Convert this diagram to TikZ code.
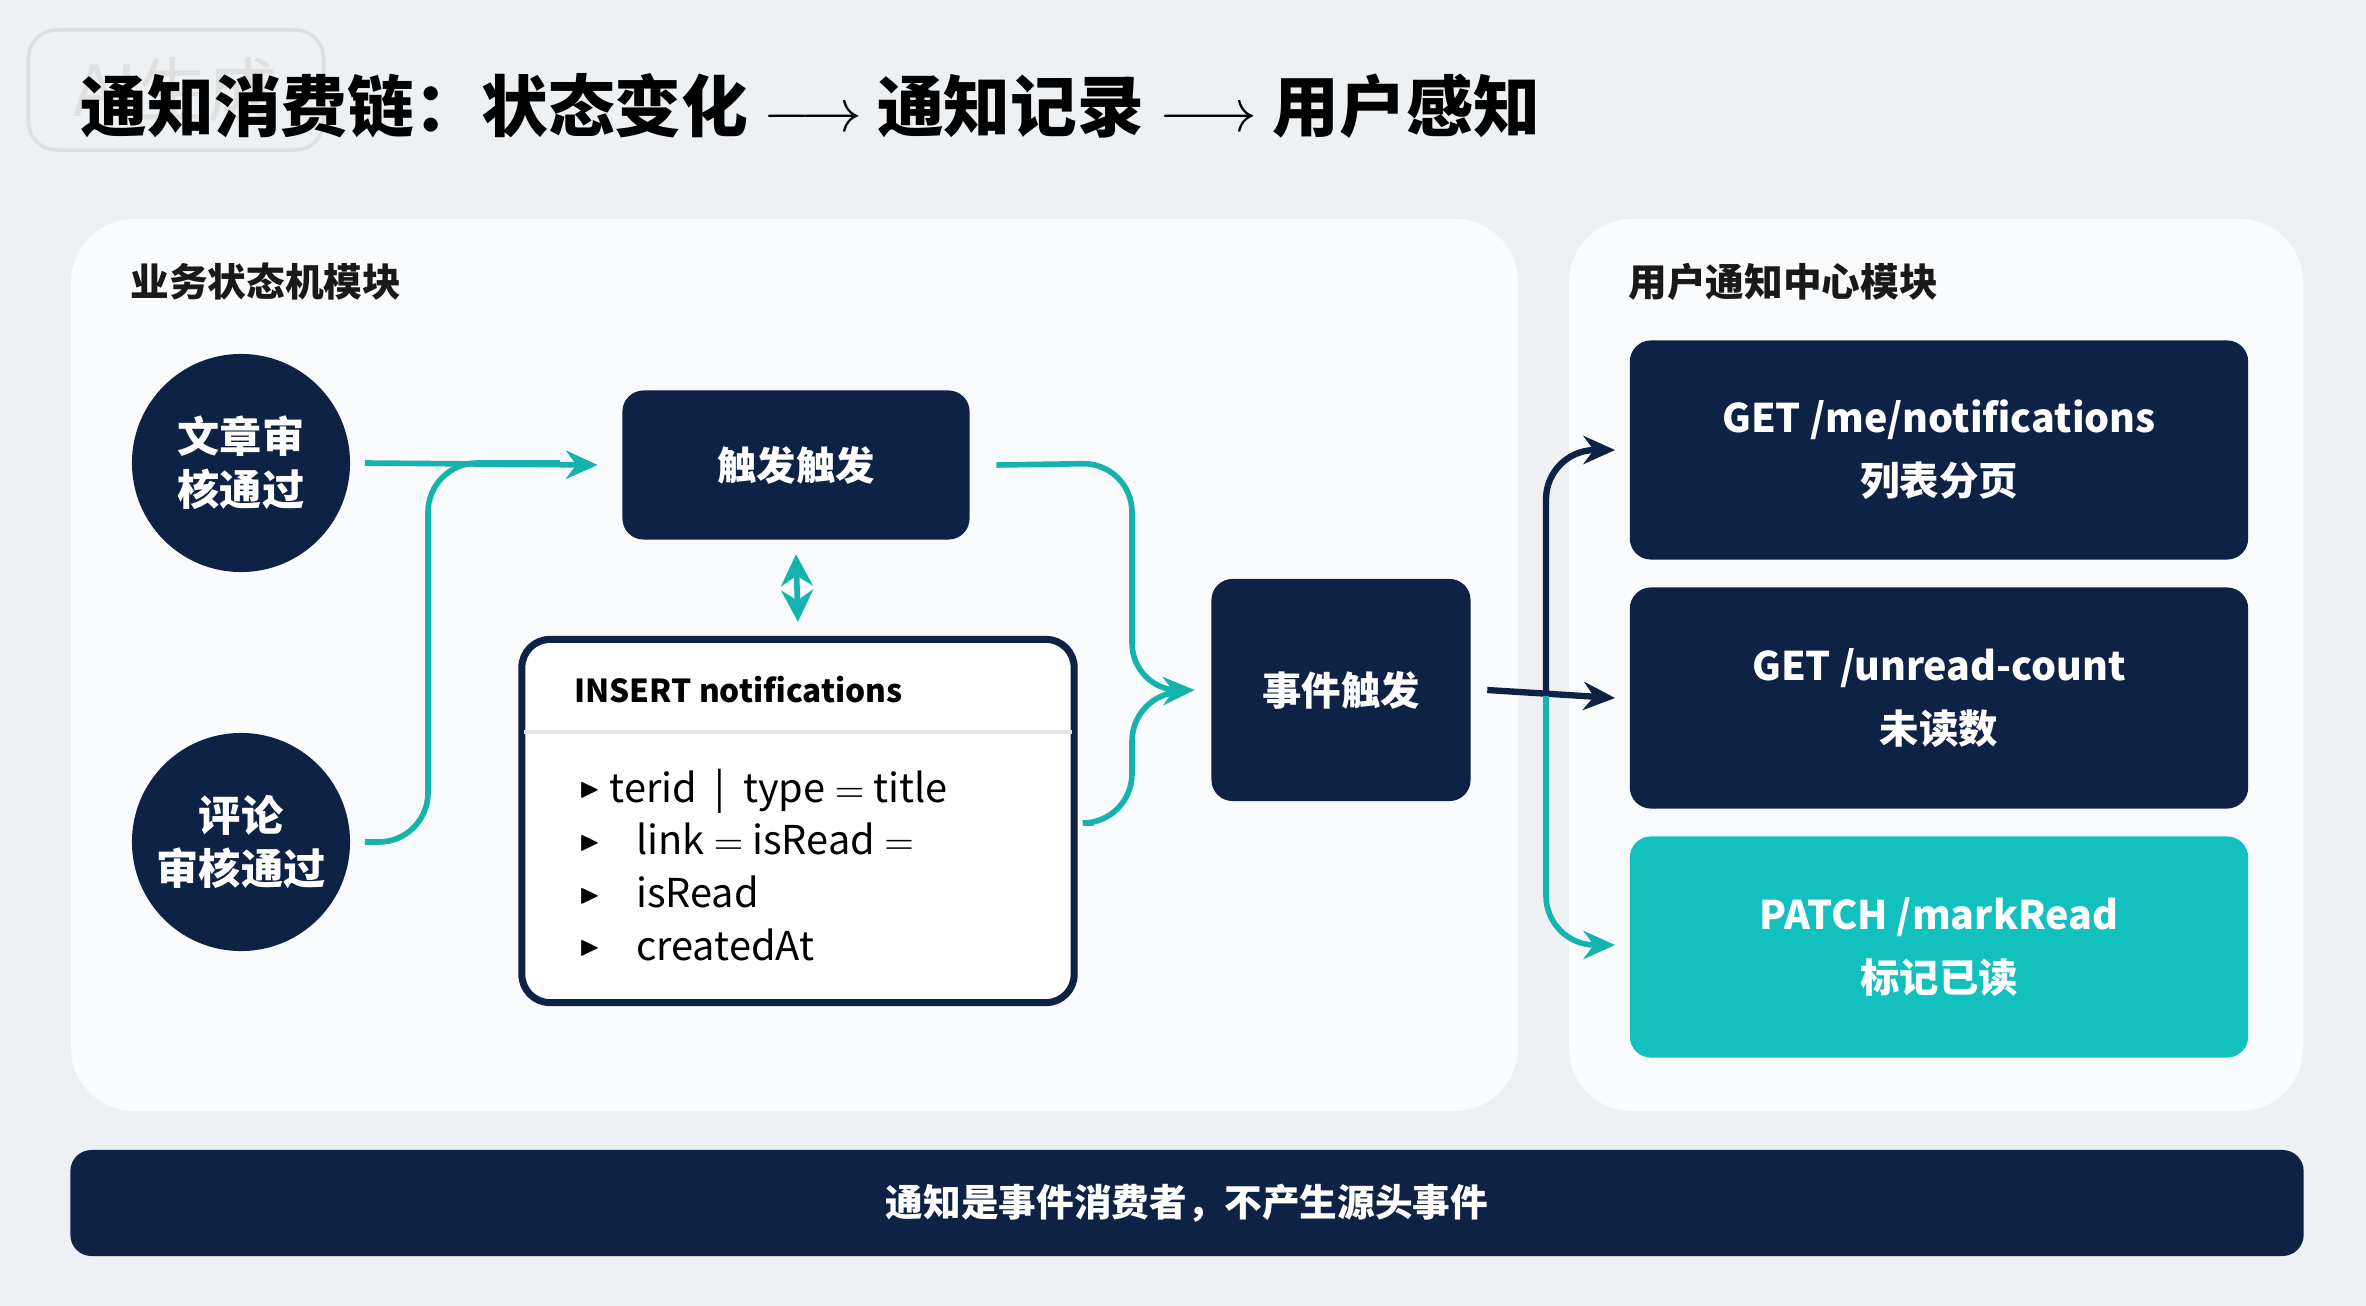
\documentclass[tikz,border=0pt]{standalone}
\usepackage{amssymb}
\usepackage{fontspec}
\setmainfont{Noto Sans CJK SC}
\usetikzlibrary{arrows.meta}
\definecolor{navy}{HTML}{0D2244}
\definecolor{teal}{HTML}{16B3AE}
\definecolor{tealbox}{HTML}{12C1BE}
\definecolor{bg}{HTML}{EEF1F4}
\newcommand{\bul}{\raisebox{1.5pt}{\scriptsize$\blacktriangleright$}}
\begin{document}
\begin{tikzpicture}[x=0.01cm,y=-0.01cm,
  panel/.style={fill=white!70!bg,rounded corners=18pt,draw=none},
  dbox/.style={fill=navy,rounded corners=6pt,text=white,font=\bfseries\fontsize{11.2}{18}\selectfont,align=center,inner sep=0},
  circ/.style={circle,fill=navy,text=white,font=\bfseries\fontsize{12}{15}\selectfont,align=center,minimum size=2.18cm,inner sep=0},
  conn/.style={teal,line width=1.6pt,rounded corners=14pt},
  arr/.style={-{Stealth[length=9pt,width=8pt]}},
  lbl/.style={font=\bfseries\fontsize{11}{13}\selectfont,anchor=west,text=black!90}]
\fill[bg] (0,0) rectangle (2366,1306);
\useasboundingbox (0,0) rectangle (2366,1306);
% watermark
\node[draw=black!12,line width=1pt,rounded corners=8pt,minimum width=2.95cm,minimum height=1.2cm,text=black!12,font=\fontsize{20}{22}\selectfont] (wm) at (176,90) {AI生成};
\node[anchor=west,font=\bfseries\fontsize{19}{22}\selectfont] (title) at (68,106) {通知消费链：状态变化 $\longrightarrow$ 通知记录 $\longrightarrow$ 用户感知};
% panels
\fill[panel] (71,219) rectangle (1518,1111);
\fill[panel] (1569,219) rectangle (2303,1111);
\node[lbl] (l1) at (118,282) {业务状态机模块};
\node[lbl] (l2) at (1616,282) {用户通知中心模块};
% circles
\node[circ] (c1) at (241,463) {文章审\\核通过};
\node[circ] (c2) at (241,842) {评论\\审核通过};
% trigger
\node[dbox,minimum width=3.47cm,minimum height=1.49cm] (trig) at (796,465) {触发触发};
% insert box
\node[draw=navy,line width=2pt,fill=white,rounded corners=8pt,minimum width=5.52cm,minimum height=3.63cm,inner sep=0] (ins) at (798,821) {};
\draw[black!10,line width=1pt] (524,732) -- (1072,732);
\node[anchor=west,font=\bfseries\fontsize{9}{11}\selectfont] (insh) at (562,690) {INSERT notifications};
\node[anchor=north west,font=\fontsize{11.3}{15}\selectfont,align=left,inner sep=0] (insl) at (578,768) {%
\bul\ terid\ \ |\ \ type $=$ title\\
\bul\ \ \ \ link $=$ isRead $=$\\
\bul\ \ \ \ isRead\\
\bul\ \ \ \ createdAt};
% event
\node[dbox,minimum width=2.59cm,minimum height=2.22cm] (ev) at (1341,690) {事件触发};
% right boxes
\node[dbox,minimum width=6.18cm,minimum height=2.19cm] (r1) at (1939,450) {GET /me/notifications\\列表分页};
\node[dbox,minimum width=6.18cm,minimum height=2.21cm] (r2) at (1939,698) {GET /unread-count\\未读数};
\node[dbox,fill=tealbox,minimum width=6.18cm,minimum height=2.21cm] (r3) at (1939,947) {PATCH /markRead\\标记已读};
% bottom bar
\node[dbox,minimum width=22.32cm,minimum height=1.06cm,font=\bfseries\fontsize{10.7}{13}\selectfont] (bar) at (1187,1203) {通知是事件消费者，不产生源头事件};
% connectors
\coordinate (jr) at (1546,696);
\draw[conn,arr] ([xshift=0.14cm]c1.east) -- ([xshift=-0.24cm]trig.west);
\draw[conn] ([xshift=0.14cm]c2.east) -- (428,842) -- (428,463) -- (560,463);
\draw[conn,arr] ([xshift=0.26cm]trig.east) -- (1132,463) -- (1132,692) -- ([xshift=-0.16cm]ev.west);
\draw[conn] ([xshift=0.16cm]ins.east |- 0,823) -- (1132,823) -- (1132,692) -- (1180,692);
\draw[conn,{Stealth[length=9pt,width=9pt]}-{Stealth[length=9pt,width=9pt]}] ([yshift=-0.14cm]trig.south) -- ([yshift=0.14cm]ins.north);
\draw[navy,line width=1.8pt,arr] ([xshift=0.16cm]ev.east) -- ([xshift=-0.14cm]r2.west);
\draw[navy,line width=1.8pt,rounded corners=14pt,arr] (jr) -- (1546,450) -- ([xshift=-0.14cm]r1.west);
\draw[teal,line width=1.6pt,rounded corners=14pt,arr] (jr) -- (1546,945) -- ([xshift=-0.14cm]r3.west |- 0,945);
\end{tikzpicture}
\end{document}
